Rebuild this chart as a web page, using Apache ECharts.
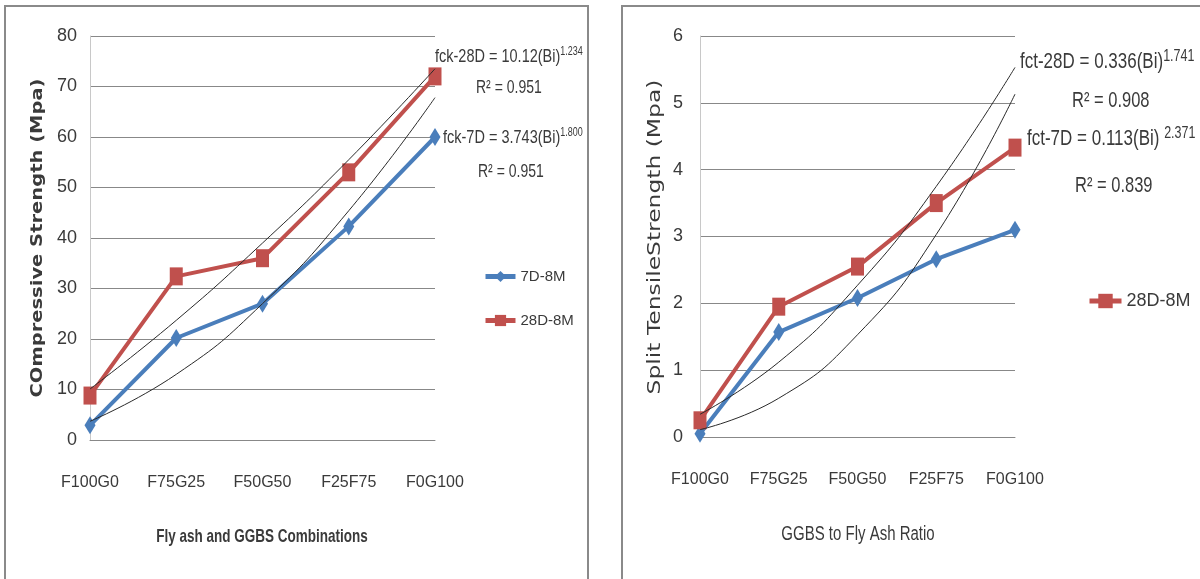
<!DOCTYPE html>
<html>
<head>
<meta charset="utf-8">
<script src="https://cdn.jsdelivr.net/npm/echarts@6/dist/echarts.min.js"></script>
<style>
html,body{margin:0;padding:0;background:#fff;}
#chart{width:1200px;height:579px;}
</style>
</head>
<body>
<div id="chart"></div>
<script>
const categories = ['F100G0', 'F75G25', 'F50G50', 'F25F75', 'F0G100'];
const compressive7D = [2.9, 20.2, 27, 42.3, 60];
const compressive28D = [8.8, 32.4, 36, 53, 72];
const compTrend28D = [10.1, 23.7, 39, 55.5, 73.5];
const compTrend7D = [3.7, 13, 27, 45.4, 67.8];
const split7D = [0.05, 1.57, 2.08, 2.66, 3.1];
const split28D = [0.25, 1.95, 2.55, 3.5, 4.33];
const splitTrend28D = [0.34, 1.12, 2.27, 3.75, 5.53];
const splitTrend7D = [0.11, 0.58, 1.53, 3.03, 5.13];
const compTicks = { min: 0, max: 80, interval: 10 };
const splitTicks = { min: 0, max: 6, interval: 1 };
const seriesNames = ['7D-8M', '28D-8M'];

const FONT = '"Liberation Sans", Arial, sans-serif';
const BLUE = '#4a7ebb';
const RED = '#c0504d';
const TXT = '#3a3a3a';
const GRID = '#888888';
const STRETCH = 1.32;

const chart = echarts.init(document.getElementById('chart'), null, { renderer: 'canvas' });

function xAxisFor(gridIndex) {
  return {
    type: 'category', gridIndex: gridIndex, data: categories, boundaryGap: false,
    axisLine: { show: true, lineStyle: { color: GRID, width: 1 } },
    axisTick: { show: false },
    axisLabel: { color: TXT, fontFamily: FONT, fontSize: 16, margin: 35, interval: 0 }
  };
}
function yAxisFor(gridIndex, ticks, labelMargin) {
  return {
    type: 'value', gridIndex: gridIndex, min: ticks.min, max: ticks.max, interval: ticks.interval,
    axisLine: { show: true, lineStyle: { color: '#c8c8c8', width: 1 } },
    axisTick: { show: false },
    splitLine: { show: true, lineStyle: { color: GRID, width: 1 } },
    axisLabel: { color: TXT, fontFamily: FONT, fontSize: 18, margin: labelMargin }
  };
}
function dataSeries(name, idx, data, color, symbol, size) {
  return {
    name: name, type: 'line', xAxisIndex: idx, yAxisIndex: idx, data: data,
    lineStyle: { color: color, width: 4 }, itemStyle: { color: color },
    symbol: symbol, symbolSize: size, showSymbol: true, z: 3, silent: true
  };
}
function trendSeries(name, idx, data) {
  return {
    name: name, type: 'line', xAxisIndex: idx, yAxisIndex: idx, data: data, smooth: true,
    lineStyle: { color: '#2a2a2a', width: 1 }, symbol: 'none', z: 4, silent: true
  };
}
function eq(x, y, main, sup, size, supSize) {
  return {
    type: 'text', x: x, y: y, scaleY: STRETCH,
    style: {
      text: '{m|' + main + '}{s|' + sup + '}', verticalAlign: 'middle', align: 'left',
      rich: {
        m: { fontFamily: FONT, fontSize: size, fill: TXT },
        s: { fontFamily: FONT, fontSize: supSize, fill: TXT, padding: [0, 0, Math.round(size * 0.55), 0] }
      }
    }
  };
}
function plain(x, y, text, size, opts) {
  opts = opts || {};
  return {
    type: 'text', x: x, y: y, scaleX: opts.sx || 1, scaleY: opts.sy || STRETCH, rotation: opts.rot || 0,
    style: {
      text: text, fontFamily: opts.family || FONT, fontSize: size, fontWeight: opts.bold ? 'bold' : 'normal',
      fill: TXT, verticalAlign: 'middle', align: opts.align || 'left'
    }
  };
}

const option = {
  animation: false,
  backgroundColor: '#ffffff',
  grid: [
    { left: 90, top: 36, width: 345, height: 404 },
    { left: 700, top: 36, width: 315, height: 401 }
  ],
  xAxis: [xAxisFor(0), xAxisFor(1)],
  yAxis: [yAxisFor(0, compTicks, 13), yAxisFor(1, splitTicks, 17)],
  legend: [
    {
      data: seriesNames, orient: 'vertical', left: 478, top: 264, itemGap: 29,
      itemWidth: 30, itemHeight: 14, selectedMode: false,
      lineStyle: { width: 5 },
      textStyle: { color: TXT, fontFamily: FONT, fontSize: 15 }
    },
    {
      data: [seriesNames[1]], orient: 'vertical', left: 1082, top: 287,
      itemWidth: 32, itemHeight: 18, selectedMode: false,
      lineStyle: { width: 5 },
      textStyle: { color: TXT, fontFamily: FONT, fontSize: 18 }
    }
  ],
  series: [
    dataSeries(seriesNames[0], 0, compressive7D, BLUE, 'diamond', [11, 18]),
    dataSeries(seriesNames[1], 0, compressive28D, RED, 'rect', [13, 18]),
    trendSeries('trend-fck-28D', 0, compTrend28D),
    trendSeries('trend-fck-7D', 0, compTrend7D),
    dataSeries(seriesNames[0], 1, split7D, BLUE, 'diamond', [11, 18]),
    dataSeries(seriesNames[1], 1, split28D, RED, 'rect', [13, 18]),
    trendSeries('trend-fct-28D', 1, splitTrend28D),
    trendSeries('trend-fct-7D', 1, splitTrend7D)
  ],
  graphic: [
    { type: 'rect', shape: { x: 5, y: 6, width: 583, height: 620 }, style: { fill: 'none', stroke: '#8a8a8a', lineWidth: 2 }, z: -1 },
    { type: 'rect', shape: { x: 622, y: 6, width: 620, height: 620 }, style: { fill: 'none', stroke: '#8a8a8a', lineWidth: 2 }, z: -1 },
    eq(435, 57, 'fck-28D = 10.12(Bi)', '1.234', 14.5, 9),
    plain(476, 88, 'R² = 0.951', 14),
    eq(443, 138, 'fck-7D = 3.743(Bi)', '1.800', 14.5, 9),
    plain(478, 172, 'R² = 0.951', 14),
    eq(1020, 62, 'fct-28D = 0.336(Bi)', '1.741', 17, 12.5),
    plain(1072, 101, 'R² = 0.908', 16.5),
    eq(1027, 139, 'fct-7D = 0.113(Bi) ', '2.371', 17, 12.5),
    plain(1075, 186, 'R² = 0.839', 16.5),
    plain(262, 537, 'Fly ash and GGBS Combinations', 13.5, { bold: true, align: 'center' }),
    plain(858, 535, 'GGBS to Fly Ash Ratio', 15, { align: 'center' }),
    plain(38, 238, 'COmpressive Strength (Mpa)', 15, { bold: true, align: 'center', rot: Math.PI / 2, sx: 1.3, sy: 1, family: '"DejaVu Sans", sans-serif' }),
    plain(655, 237, 'Split TensileStrength (Mpa)', 18, { align: 'center', rot: Math.PI / 2, sx: 1.3, sy: 1, family: '"DejaVu Sans", sans-serif' })
  ]
};
chart.setOption(option);
</script>
</body>
</html>
